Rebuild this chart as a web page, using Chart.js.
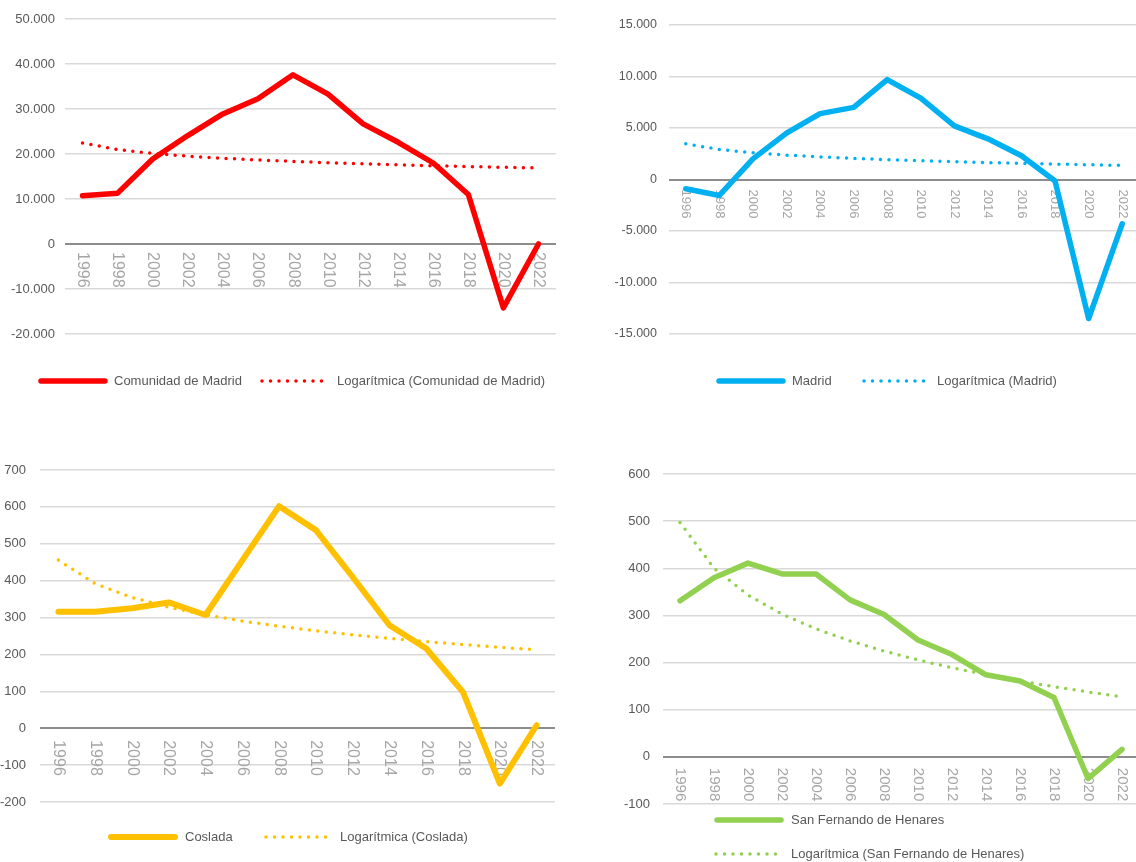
<!DOCTYPE html>
<html lang="es">
<head>
<meta charset="utf-8">
<title>Saldo migratorio 1996-2022</title>
<script src="https://cdn.jsdelivr.net/npm/chart.js@4.4.1/dist/chart.umd.min.js"></script>
<style>
  body { margin: 0; background: #fff; overflow: hidden; width: 1136px; height: 862px; position: relative; }
  .box { position: absolute; }
  #b1 { left: 0; top: 0; width: 568px; height: 400px; }
  #b2 { left: 568px; top: 0; width: 580px; height: 400px; }
  #b3 { left: 0; top: 440px; width: 568px; height: 422px; }
  #b4 { left: 568px; top: 440px; width: 580px; height: 422px; }
</style>
</head>
<body>
<div class="box" id="b1"><canvas id="c1"></canvas></div>
<div class="box" id="b2"><canvas id="c2"></canvas></div>
<div class="box" id="b3"><canvas id="c3"></canvas></div>
<div class="box" id="b4"><canvas id="c4"></canvas></div>
<script>
const years = ['1996', '1998', '2000', '2002', '2004', '2006', '2008',
               '2010', '2012', '2014', '2016', '2018', '2020', '2022'];

const comunidad   = [10700, 11300, 18900, 24100, 28900, 32300, 37600, 33300, 26700, 22600, 18000, 11000, -14200, 0];
const madrid      = [-900, -1550, 2000, 4500, 6400, 7000, 9700, 7900, 5200, 3950, 2300, -150, -13500, -4300];
const coslada     = [316, 316, 325, 341, 307, 455, 602, 537, 410, 279, 216, 98, -150, 8];
const sanFernando = [331, 380, 411, 388, 388, 333, 302, 248, 217, 174, 161, 126, -46, 16];

// y axis: [min, max, step]
const rangeComunidad   = [-20000, 50000, 10000];
const rangeMadrid      = [-15000, 15000, 5000];
const rangeCoslada     = [-200, 700, 100];
const rangeSanFernando = [-100, 600, 100];

const FONT = "'Liberation Sans', Arial, sans-serif";

function fmt(v) {
  const s = String(Math.abs(v)).replace(/\B(?=(\d{3})+(?!\d))/g, '.');
  return v < 0 ? '-' + s : s;
}

// least squares fit of y = a*ln(x) + b with x = 1..n
function logTrend(values) {
  const n = values.length;
  const xs = values.map((_, i) => Math.log(i + 1));
  const mx = xs.reduce((s, v) => s + v, 0) / n;
  const my = values.reduce((s, v) => s + v, 0) / n;
  let sxy = 0, sxx = 0;
  xs.forEach((x, i) => { sxy += (x - mx) * (values[i] - my); sxx += (x - mx) * (x - mx); });
  const a = sxy / sxx, b = my - a * mx;
  return xs.map(x => a * x + b);
}

// year labels hang below the zero line, turned 90deg
const yearLabels = {
  id: 'yearLabels',
  beforeDatasetsDraw(chart, args, opts) {
    const { ctx, scales: { x, y } } = chart;
    const y0 = y.getPixelForValue(0);
    ctx.save();
    ctx.font = opts.size + 'px ' + FONT;
    ctx.fillStyle = '#a6a6a6';
    ctx.textAlign = 'left';
    ctx.textBaseline = 'middle';
    chart.data.labels.forEach((lab, i) => {
      ctx.save();
      ctx.translate(x.getPixelForValue(i), y0 + opts.gap);
      ctx.rotate(Math.PI / 2);
      ctx.fillText(lab, 0, 0);
      ctx.restore();
    });
    ctx.restore();
  }
};

// legend with line samples: items = [lineX, y, textX] per dataset
const lineLegend = {
  id: 'lineLegend',
  afterDraw(chart, args, opts) {
    const ctx = chart.ctx;
    ctx.save();
    ctx.font = opts.size + 'px ' + FONT;
    ctx.textBaseline = 'middle';
    chart.data.datasets.forEach((ds, i) => {
      const [lx, ly, tx] = opts.items[i];
      ctx.beginPath();
      ctx.strokeStyle = ds.borderColor;
      ctx.lineWidth = ds.borderWidth;
      ctx.lineCap = 'round';
      ctx.setLineDash(ds.borderDash || []);
      if (ds.borderDash) {
        ctx.moveTo(lx + 2, ly);
        ctx.lineTo(lx + 70, ly);
      } else {
        ctx.moveTo(lx + 3, ly);
        ctx.lineTo(lx + 67, ly);
      }
      ctx.stroke();
      ctx.setLineDash([]);
      ctx.fillStyle = '#595959';
      ctx.fillText(ds.label, tx, ly);
    });
    ctx.restore();
  }
};

function makeChart(id, name, values, color, range, look) {
  return new Chart(document.getElementById(id), {
    type: 'line',
    data: {
      labels: years,
      datasets: [{
        label: name,
        data: values,
        borderColor: color,
        borderWidth: look.width,
        borderJoinStyle: 'round',
        borderCapStyle: 'round',
        pointRadius: 0,
        order: 1
      }, {
        label: 'Logarítmica (' + name + ')',
        data: logTrend(values),
        borderColor: color,
        borderWidth: 3.5,
        borderDash: [0, 8.5],
        borderCapStyle: 'round',
        pointRadius: 0,
        order: 0
      }]
    },
    options: {
      responsive: true,
      maintainAspectRatio: false,
      animation: false,
      layout: { padding: look.padding },
      scales: {
        x: { type: 'category', display: false, offset: true },
        y: {
          min: range[0],
          max: range[1],
          ticks: {
            stepSize: range[2],
            callback: v => fmt(v),
            color: '#595959',
            padding: look.tickPad,
            font: { family: FONT, size: look.tickSize }
          },
          grid: {
            drawTicks: false,
            color: c => c.tick && c.tick.value === 0 ? '#8c8c8c' : '#d9d9d9',
            lineWidth: c => c.tick && c.tick.value === 0 ? 2 : 1.5
          },
          border: { display: false },
          afterFit(s) { s.width = look.axisWidth; }
        }
      },
      plugins: {
        legend: { display: false },
        tooltip: { enabled: false },
        yearLabels: { size: look.yearSize, gap: look.yearGap },
        lineLegend: { size: 13, items: look.legend }
      }
    },
    plugins: [yearLabels, lineLegend]
  });
}

makeChart('c1', 'Comunidad de Madrid', comunidad, '#ff0000', rangeComunidad, {
  width: 5.5, axisWidth: 65, tickPad: 10, tickSize: 13, yearSize: 16, yearGap: 8,
  padding: { left: 0, right: 12, top: 19, bottom: 66 },
  legend: [[38, 381, 114], [260, 381, 337]]
});

makeChart('c2', 'Madrid', madrid, '#00b0f0', rangeMadrid, {
  width: 5.5, axisWidth: 101, tickPad: 12, tickSize: 12.5, yearSize: 13, yearGap: 10,
  padding: { left: 0, right: 9, top: 25, bottom: 66 },
  legend: [[148, 381, 224], [294, 381, 369]]
});

makeChart('c3', 'Coslada', coslada, '#ffc000', rangeCoslada, {
  width: 6, axisWidth: 40, tickPad: 14, tickSize: 13, yearSize: 16, yearGap: 12,
  padding: { left: 0, right: 13, top: 30, bottom: 60 },
  legend: [[108, 397, 185], [264, 397, 340]]
});

makeChart('c4', 'San Fernando de Henares', sanFernando, '#92d050', rangeSanFernando, {
  width: 5.5, axisWidth: 95, tickPad: 13, tickSize: 13, yearSize: 15, yearGap: 11,
  padding: { left: 0, right: 9, top: 34, bottom: 58 },
  legend: [[146, 380, 223], [146, 414, 223]]
});
</script>
</body>
</html>
